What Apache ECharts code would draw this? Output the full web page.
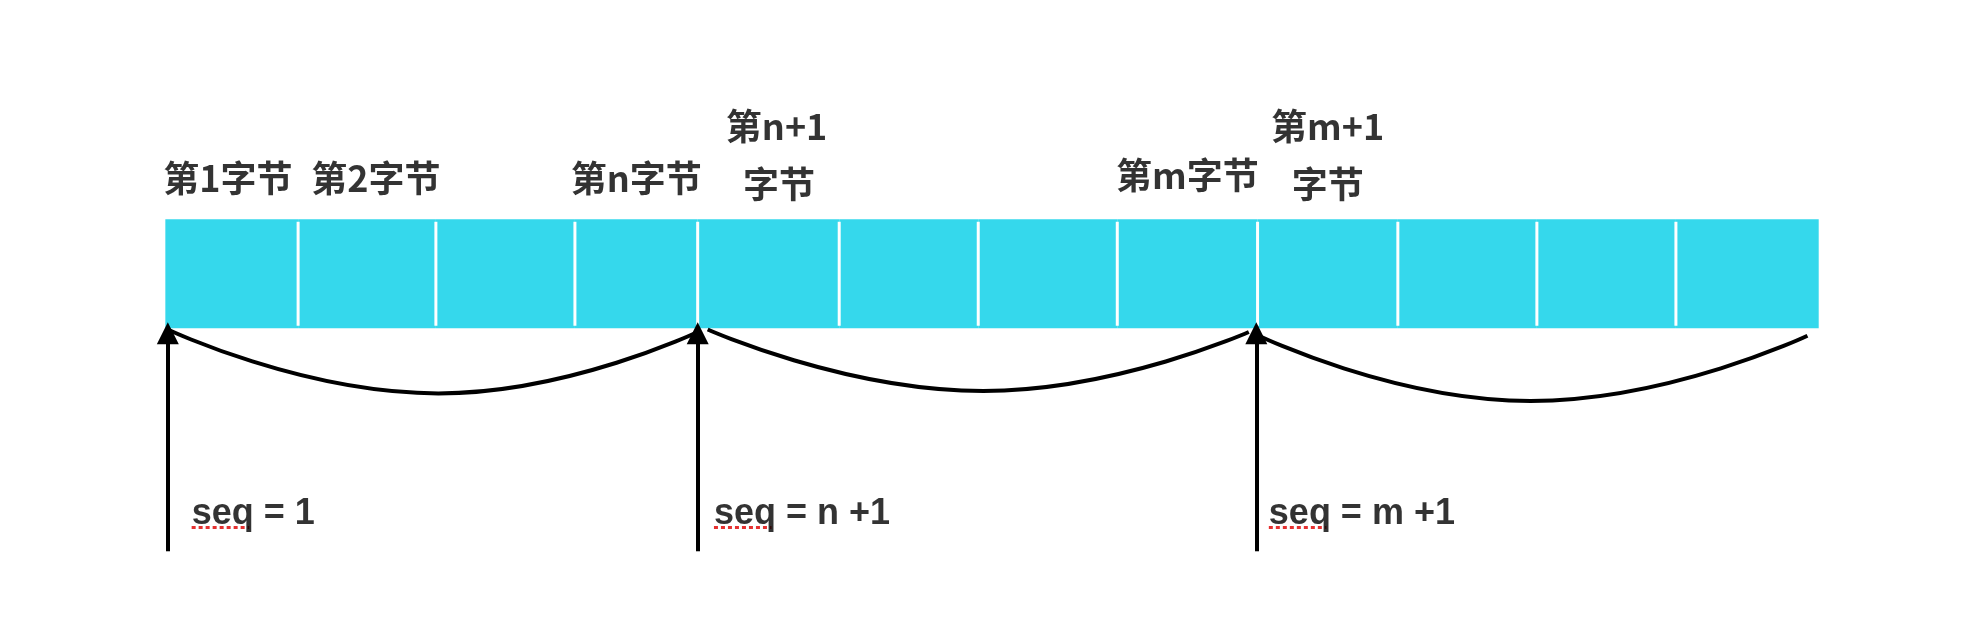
<!DOCTYPE html>
<html>
<head>
<meta charset="utf-8">
<script src="https://cdn.jsdelivr.net/npm/echarts@6/dist/echarts.min.js"></script>
<style>html,body{margin:0;padding:0;background:#fff}#chart{width:1964px;height:644px}</style>
</head>
<body>
<div id="chart"></div>
<script>
// diagram units: 1568 x 514 (scaled to the page)
var cellEdges = [132, 238, 348, 459, 557, 670, 781, 892, 1004, 1116, 1227, 1338, 1452];
var barTop = 175, barBottom = 262;

var byteLabels = [
	{text: '第1字节', x: 182, y: 142},
	{text: '第2字节', x: 300, y: 142},
	{text: '第n字节', x: 508, y: 142},
	{text: '第n+1', x: 620, y: 101},
	{text: '字节', x: 622, y: 147},
	{text: '第m字节', x: 948, y: 140},
	{text: '第m+1', x: 1060, y: 101},
	{text: '字节', x: 1060, y: 147}
];

var arrowX = [134, 557, 1003];
var arrowFrom = 440, arrowTo = 266;

var seqLabels = ['seq = 1', 'seq = n +1', 'seq = m +1'];
var seqX = [153, 570, 1013];
var seqY = 410;
var seqUnderline = 46;

var arcs = [
	[[134, 263], [350, 314], [557, 265]],
	[[565, 263], [785, 312], [997, 265]],
	[[1005, 268], [1222, 320], [1443, 268]]
];

var chart = echarts.init(document.getElementById('chart'));

var series = [];

series.push({
	type: 'custom',
	data: cellEdges.slice(0, -1).map(function (x, i) { return [x, cellEdges[i + 1]]; }),
	renderItem: function (params, api) {
		var a = api.coord([api.value(0), barTop]);
		var b = api.coord([api.value(1), barBottom]);
		var children = [{type: 'rect', shape: {x: a[0], y: a[1], width: b[0] - a[0], height: b[1] - a[1]}, style: {fill: '#35d8ec'}}];
		if (params.dataIndex > 0) {
			var t = api.coord([api.value(0), barTop + 2]);
			var u = api.coord([api.value(0), barBottom - 2]);
			children.push({type: 'line', shape: {x1: t[0], y1: t[1], x2: u[0], y2: u[1]}, style: {stroke: '#fff', lineWidth: 3}});
		}
		return {type: 'group', children: children};
	},
	silent: true
});

arcs.forEach(function (pts) {
	series.push({
		type: 'line', data: pts, smooth: true, symbol: 'none',
		lineStyle: {color: '#000', width: 4}, silent: true
	});
});

series.push({
	type: 'lines', coordinateSystem: 'cartesian2d',
	data: arrowX.map(function (x) { return {coords: [[x, arrowFrom], [x, arrowTo]]}; }),
	symbol: ['none', 'triangle'], symbolSize: 22,
	lineStyle: {color: '#000', width: 4, opacity: 1}, silent: true
});

series.push({
	type: 'scatter', symbolSize: 0,
	data: byteLabels.map(function (d) { return {value: [d.x, d.y], name: d.text}; }),
	label: {show: true, position: 'inside', formatter: '{b}', color: '#000', fontSize: 36, fontWeight: 'bold', fontFamily: 'Noto Sans CJK SC'},
	silent: true
});

series.push({
	type: 'scatter', symbolSize: 0,
	data: seqLabels.map(function (t, i) { return {value: [seqX[i], seqY], name: t}; }),
	label: {show: true, position: 'right', distance: 0, formatter: '{b}', color: '#000', fontSize: 36, fontWeight: 'bold', fontFamily: 'Liberation Sans'},
	silent: true
});

series.push({
	type: 'lines', coordinateSystem: 'cartesian2d',
	data: seqX.map(function (x) { return {coords: [[x, 421], [x + seqUnderline, 421]]}; }),
	lineStyle: {color: '#e53030', width: 3, type: [4, 3], opacity: 1}, silent: true
});

chart.setOption({
	animation: false,
	backgroundColor: '#fff',
	grid: {left: 0, right: 0, top: 0, bottom: 0},
	xAxis: {type: 'value', min: 0, max: 1568, show: false},
	yAxis: {type: 'value', min: 0, max: 514, inverse: true, show: false},
	series: series
});
</script>
</body>
</html>
